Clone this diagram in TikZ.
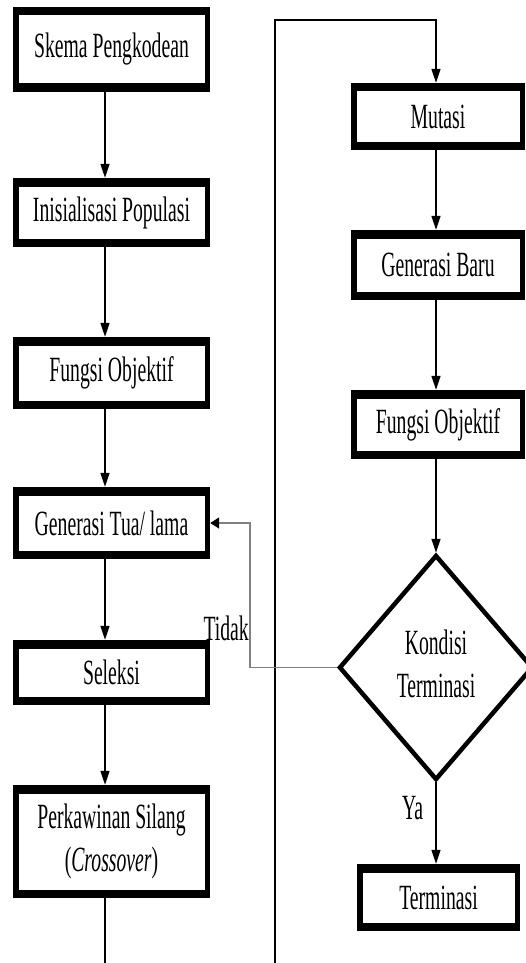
\documentclass[tikz,border=0pt]{standalone}
\usepackage{graphicx}
\usepackage{fontspec}
\setmainfont{Liberation Serif}
\usetikzlibrary{arrows.meta,shapes.geometric}
\newcommand{\stt}[1]{\scalebox{1}[1.8]{#1}}
\begin{document}
\begin{tikzpicture}[x=1pt,y=-1pt,
  lbl/.style={font=\fontsize{19.7}{23.6}\selectfont, inner sep=0pt, text=black},
  fbox/.style={rectangle, fill=black, inner sep=0pt, lbl,
    path picture={\fill[white] ([xshift=5.5pt,yshift=8.5pt]path picture bounding box.south west) rectangle ([xshift=-5.5pt,yshift=-8.5pt]path picture bounding box.north east);}},
  lbox/.style={fbox, minimum width=197pt},
  rbox/.style={fbox, minimum width=174pt},
  arr/.style={line width=1.3pt, -{Triangle[length=14pt,width=9pt]}},
  ln/.style={line width=1.3pt},
  fb/.style={line width=1.5pt, draw=black!50, -{Triangle[length=9pt,width=11pt,color=black]}},
]
\useasboundingbox (0,0) rectangle (525,963);
% left column
\node[lbox, minimum height=85pt] (b1) at (111.5,49.5) {\stt{Skema Pengkodean}};
\node[lbox, minimum height=69pt] (b2) at (111.5,212.5) {\stt{Inisialisasi Populasi}};
\node[lbox, minimum height=72pt] (b3) at (111.5,373) {\stt{Fungsi Objektif}};
\node[lbox, minimum height=72pt] (b4) at (111.5,523) {\stt{Generasi Tua/ lama}};
\node[lbox, minimum height=65pt] (b5) at (111.5,672.5) {\stt{Seleksi}};
\node[lbox, minimum height=113pt] (b6) at (111.5,841.5) {\stt{\begin{tabular}{@{}c@{}}Perkawinan Silang\\(\textit{Crossover})\end{tabular}}};
% right column
\node[rbox, minimum height=67pt] (r1) at (438,116.5) {\stt{Mutasi}};
\node[rbox, minimum height=70pt] (r2) at (438,265) {\stt{Generasi Baru}};
\node[rbox, minimum height=69pt] (r3) at (438,424.5) {\stt{Fungsi Objektif}};
\node[diamond, draw, line width=4.5pt, minimum width=194pt, minimum height=225pt, inner sep=0pt, lbl] (dia) at (436,667.5) {\stt{\begin{tabular}{@{}c@{}}Kondisi\\Terminasi\end{tabular}}};
\node[fbox, minimum width=163pt, minimum height=67pt] (term) at (438.5,897.5) {\stt{Terminasi}};
% labels
\node[lbl, anchor=south east] (tidak) at (249,641) {\stt{Tidak}};
\node[lbl, anchor=south] (ya) at (412.5,820) {\stt{Ya}};
% helper coordinates
\coordinate (xl) at (105,0);
\coordinate (xr) at (436,0);
\coordinate (endL) at (105,963);
\coordinate (loopB) at (275,963);
\coordinate (loopT) at (275,20);
\coordinate (fx) at (250,0);
% left connectors
\draw[arr] (b1.south -| xl) -- (b2.north -| xl);
\draw[arr] (b2.south -| xl) -- (b3.north -| xl);
\draw[arr] (b3.south -| xl) -- (b4.north -| xl);
\draw[arr] (b4.south -| xl) -- (b5.north -| xl);
\draw[arr] (b5.south -| xl) -- (b6.north -| xl);
\draw[ln] (b6.south -| xl) -- (endL);
% loop to right column
\draw[arr] (loopB) -- (loopT) -| (r1.north -| xr);
% right connectors
\draw[arr] (r1.south -| xr) -- (r2.north -| xr);
\draw[arr] (r2.south -| xr) -- (r3.north -| xr);
\draw[arr] (r3.south -| xr) -- (dia.north);
\draw[arr] (dia.south) -- (term.north -| xr);
% feedback
\draw[fb] (dia.west) -| (fx |- b4.east) -- (b4.east);
\end{tikzpicture}
\end{document}
